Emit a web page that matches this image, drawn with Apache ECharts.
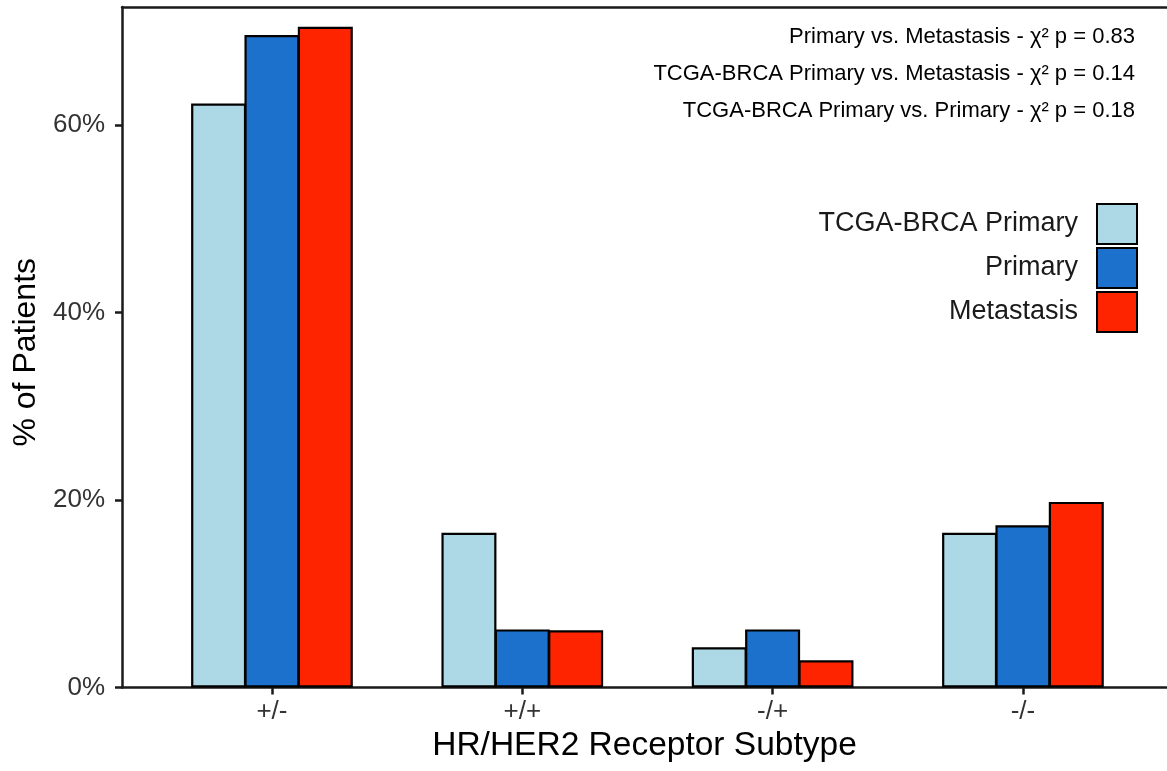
<!DOCTYPE html>
<html>
<head>
<meta charset="utf-8">
<script src="https://cdn.jsdelivr.net/npm/echarts@6/dist/echarts.min.js"></script>
<style>
html,body{margin:0;padding:0;background:#fff;}
#chart{width:1167px;height:771px;}
</style>
</head>
<body>
<div id="chart"></div>
<script>
// ---- data ----
const categories = ['+/-', '+/+', '-/+', '-/-'];
const seriesNames = ['TCGA-BRCA Primary', 'Primary', 'Metastasis'];
const tcgaPrimary = [62.3, 16.5, 4.3, 16.5];
const primary = [69.6, 6.2, 6.2, 17.3];
const metastasis = [70.5, 6.1, 2.9, 19.8];
const yTicks = [0, 20, 40, 60];
const annotations = [
  'Primary vs. Metastasis - \u03C7\u00B2 p = 0.83',
  'TCGA-BRCA Primary vs. Metastasis - \u03C7\u00B2 p = 0.14',
  'TCGA-BRCA Primary vs. Primary - \u03C7\u00B2 p = 0.18'
];
const xTitle = 'HR/HER2 Receptor Subtype';
const yTitle = '% of Patients';

// ---- styles ----
const colors = ['#ADD8E6', '#1B71CC', '#FF2400'];
const FONT = 'Liberation Sans, Arial, Helvetica, sans-serif';
const yMax = 72.6;
const axisColor = '#1a1a1a';

const chart = echarts.init(document.getElementById('chart'));
const valuesList = [tcgaPrimary, primary, metastasis];

const option = {
  backgroundColor: '#fff',
  animation: false,
  textStyle: { fontFamily: FONT },
  title: annotations.map((t, i) => ({
    text: t,
    right: 32,
    top: 26 + i * 37,
    padding: 0,
    textStyle: { fontFamily: FONT, fontSize: 22, fontWeight: 'normal', color: '#000' }
  })),
  legend: {
    data: seriesNames,
    orient: 'vertical',
    right: 29,
    top: 203,
    padding: 0,
    align: 'right',
    itemWidth: 40,
    itemHeight: 40,
    itemGap: 2,
    icon: 'rect',
    selectedMode: false,
    textStyle: { fontFamily: FONT, fontSize: 27, color: '#1a1a1a', padding: [0, 14, 0, 0] }
  },
  grid: [
    { left: 122, width: 1051, top: 7, bottom: 83.5, containLabel: false },
    { left: 146.8, width: 1001.3, top: 7, bottom: 83.5, containLabel: false }
  ],
  xAxis: [
    {
      type: 'category', gridIndex: 0, data: [''], position: 'bottom',
      axisLine: { show: true, lineStyle: { color: axisColor, width: 2.5 } },
      axisTick: { show: false }, axisLabel: { show: false }, splitLine: { show: false },
      name: xTitle, nameLocation: 'middle', nameGap: 41,
      nameTextStyle: { fontFamily: FONT, fontSize: 33.5, color: '#000' }
    },
    {
      type: 'category', gridIndex: 0, data: [''], position: 'top',
      axisLine: { show: true, lineStyle: { color: axisColor, width: 2.5 } },
      axisTick: { show: false }, axisLabel: { show: false }, splitLine: { show: false }
    },
    {
      type: 'category', gridIndex: 1, data: categories, position: 'bottom',
      axisLine: { show: false },
      axisTick: { show: true, alignWithLabel: true, length: 7, lineStyle: { color: axisColor, width: 2.5 } },
      axisLabel: { fontFamily: FONT, fontSize: 26, color: '#333', margin: 11 },
      splitLine: { show: false }
    }
  ],
  yAxis: [
    {
      type: 'value', gridIndex: 0, min: 0, max: yMax, interval: 20,
      axisLine: { show: true, lineStyle: { color: axisColor, width: 2.5 } },
      axisTick: { show: true, length: 7, customValues: yTicks, lineStyle: { color: axisColor, width: 2.5 } },
      axisLabel: {
        customValues: yTicks, fontFamily: FONT, fontSize: 26, color: '#333', margin: 17,
        formatter: v => (yTicks.indexOf(v) >= 0 ? v + '%' : '')
      },
      splitLine: { show: false },
      name: yTitle, nameLocation: 'middle', nameGap: 74, nameRotate: 90,
      nameTextStyle: { fontFamily: FONT, fontSize: 32, color: '#000', padding: [0, 10, 0, 0] }
    },
    {
      type: 'value', gridIndex: 1, min: 0, max: yMax, interval: 20, show: false,
      splitLine: { show: false }
    }
  ],
  series: seriesNames.map((name, i) => ({
    name: name,
    type: 'bar',
    xAxisIndex: 2,
    yAxisIndex: 1,
    data: valuesList[i],
    barWidth: 55,
    barGap: '-3%',
    itemStyle: { color: colors[i], borderColor: '#000', borderWidth: 2.2 }
  }))
};
chart.setOption(option);
</script>
</body>
</html>
